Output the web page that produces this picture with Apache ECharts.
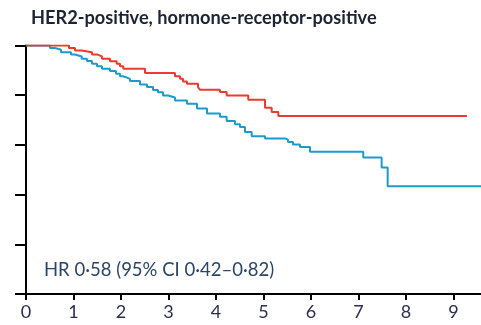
<!DOCTYPE html>
<html><head><meta charset="utf-8">
<script src="https://cdn.jsdelivr.net/npm/echarts@6/dist/echarts.min.js"></script>
<style>html,body{margin:0;padding:0;background:#fff}#c{width:481px;height:325px}</style>
</head><body><div id="c"></div>
<script>
const title = 'HER2-positive, hormone-receptor-positive';
const hrText = 'HR 0·58 (95% CI 0·42–0·82)';
const xTicks = [0,1,2,3,4,5,6,7,8,9];
const yTicks = [0,20,40,60,80,100];
// red curve: [time (years), event-free %] at each step
const redTimes = [0,0.905,1.032,1.173,1.389,1.495,1.6,1.768,1.909,1.979,2.048,2.505,3.137,3.242,3.305,3.389,3.621,3.663,4.084,4.225,4.68,5.032,5.173,5.312,9.284];
const redValues = [100,99.0,98.0,97.3,96.4,95.6,94.7,93.7,92.7,91.6,90.6,88.9,87.6,86.6,85.5,84.6,83.3,82.2,81.3,79.9,78.2,75.0,73.2,71.6,71.6];
// blue curve
const blueTimes = [0,0.505,0.611,0.737,0.947,1.032,1.173,1.284,1.389,1.495,1.6,1.768,1.895,1.979,2.042,2.126,2.189,2.4,2.547,2.674,2.779,2.884,2.989,3.137,3.389,3.6,3.811,4.084,4.225,4.4,4.505,4.611,4.752,5.032,5.453,5.516,5.621,5.768,5.979,7.101,7.488,7.615,9.58];
const blueValues = [100,99.0,98.3,97.3,96.4,95.6,94.7,93.8,92.7,91.6,90.6,89.7,88.6,87.6,87.1,86.6,85.7,84.3,83.3,82.1,81.2,79.9,79.1,77.9,76.6,74.6,72.6,71.3,69.6,68.3,67.2,65.2,63.5,62.6,62.1,61.2,60.2,59.2,57.2,54.9,50.9,43.4,43.4];

const zip = (a,b)=>a.map((v,i)=>[v,b[i]]);
const chart = echarts.init(document.getElementById('c'));
chart.setOption({
  animation:false,
  title:{text:title,left:26,top:4,textStyle:{fontFamily:'Lato',fontWeight:'bold',fontSize:18.2,color:'#1c2333'}},
  grid:{left:26,top:45.5,right:0,bottom:31},
  xAxis:{type:'value',min:0,max:9.58,interval:1,
    axisLine:{onZero:false,lineStyle:{color:'#000',width:2}},
    axisTick:{show:true,length:6,customValues:xTicks,lineStyle:{color:'#000',width:2}},
    axisLabel:{customValues:xTicks,margin:9,fontFamily:'Lato',fontSize:18,color:'#2b2d55'},
    splitLine:{show:false}},
  yAxis:{type:'value',min:0,max:100,interval:20,
    axisLine:{show:true,lineStyle:{color:'#000',width:2}},
    axisTick:{show:true,length:11,customValues:yTicks,lineStyle:{color:'#000',width:2}},
    axisLabel:{show:false},splitLine:{show:false}},
  graphic:[{type:'text',left:44,top:261,style:{text:hrText,fontFamily:'Lato',fontSize:18.5,fill:'#2c4566'}}],
  series:[
    {type:'line',step:'end',data:zip(redTimes,redValues),symbol:'none',lineStyle:{color:'#ec3a2e',width:2},z:3},
    {type:'line',step:'end',data:zip(blueTimes,blueValues),symbol:'none',lineStyle:{color:'#1b9bcb',width:2},z:2}
  ]
});
</script></body></html>
